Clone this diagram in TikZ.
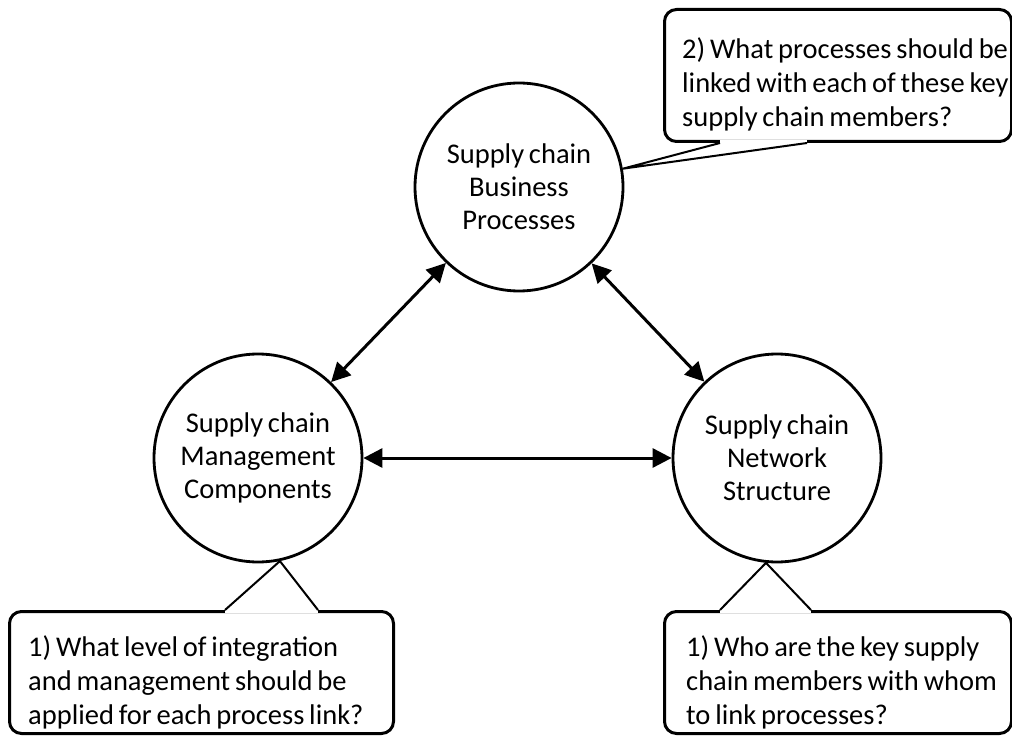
\documentclass[tikz,border=0pt]{standalone}
\usepackage{fontspec}
\setmainfont{Carlito}[WordSpace=0.75]
\usetikzlibrary{arrows.meta,calc}
\tikzset{
	proc/.style={circle, draw, line width=2.8pt, minimum size=208pt,
		inner sep=0pt, align=center, font=\fontsize{28.5}{33}\selectfont},
	ask/.style={draw, line width=3pt, rounded corners=12pt, anchor=north west},
	asktext/.style={anchor=north west, inner sep=0pt, align=left,
		font=\fontsize{28.5}{34}\selectfont},
	link/.style={line width=3pt,
		{Triangle[length=19pt,width=19pt]}-{Triangle[length=19pt,width=19pt]}},
	tail/.style={line width=2pt, line join=miter},
	gap/.style={white, line width=6pt}
}

\begin{document}
\begin{tikzpicture}[x=1pt, y=-1pt]
\useasboundingbox (0,0) rectangle (1012,738);
\node[proc] (bp) at(519,187) {Supply chain\\Business\\Processes};
\node[proc] (mc) at(258,458) {Supply chain\\Management\\Components};
\node[proc] (ns) at(777,458) {Supply chain\\Network\\Structure};

\draw[link] (mc) -- (bp);
\draw[link] (bp) -- (ns);
\draw[link] (mc) -- (ns);

\node[ask, minimum width=347pt, minimum height=132pt] (bpq) at(663,8) {};
\node[ask, minimum width=384pt, minimum height=122pt] (mcq) at(8,610) {};
\node[ask, minimum width=347pt, minimum height=122pt] (nsq) at(663,610) {};

\node[asktext] (bpt) at(682,37)
	{2) What processes should be\\linked with each of these key\\supply chain members?};
\node[asktext] (mct) at(28,635)
	{1) What level of integration\\and management should be\\applied for each process link?};
\node[asktext] (nst) at(686,635)
	{1) Who are the key supply\\chain members with whom\\to link processes?};

\coordinate (bpa) at ($(bpq.south west)+(57,0)$);
\coordinate (bpb) at ($(bpq.south west)+(144,0)$);
\coordinate (mca) at ($(mcq.north west)+(217,0)$);
\coordinate (mcb) at ($(mcq.north west)+(310,0)$);
\coordinate (nsa) at ($(nsq.north west)+(57,0)$);
\coordinate (nsb) at ($(nsq.north west)+(148,0)$);

\draw[gap] (bpa) -- (bpb);
\draw[gap] (mca) -- (mcb);
\draw[gap] (nsa) -- (nsb);
\draw[tail] (bpa) -- (bp.10) -- (bpb);
\draw[tail] (mca) -- (mc.-78) -- (mcb);
\draw[tail] (nsa) -- (ns.-96) -- (nsb);
\end{tikzpicture}
\end{document}
